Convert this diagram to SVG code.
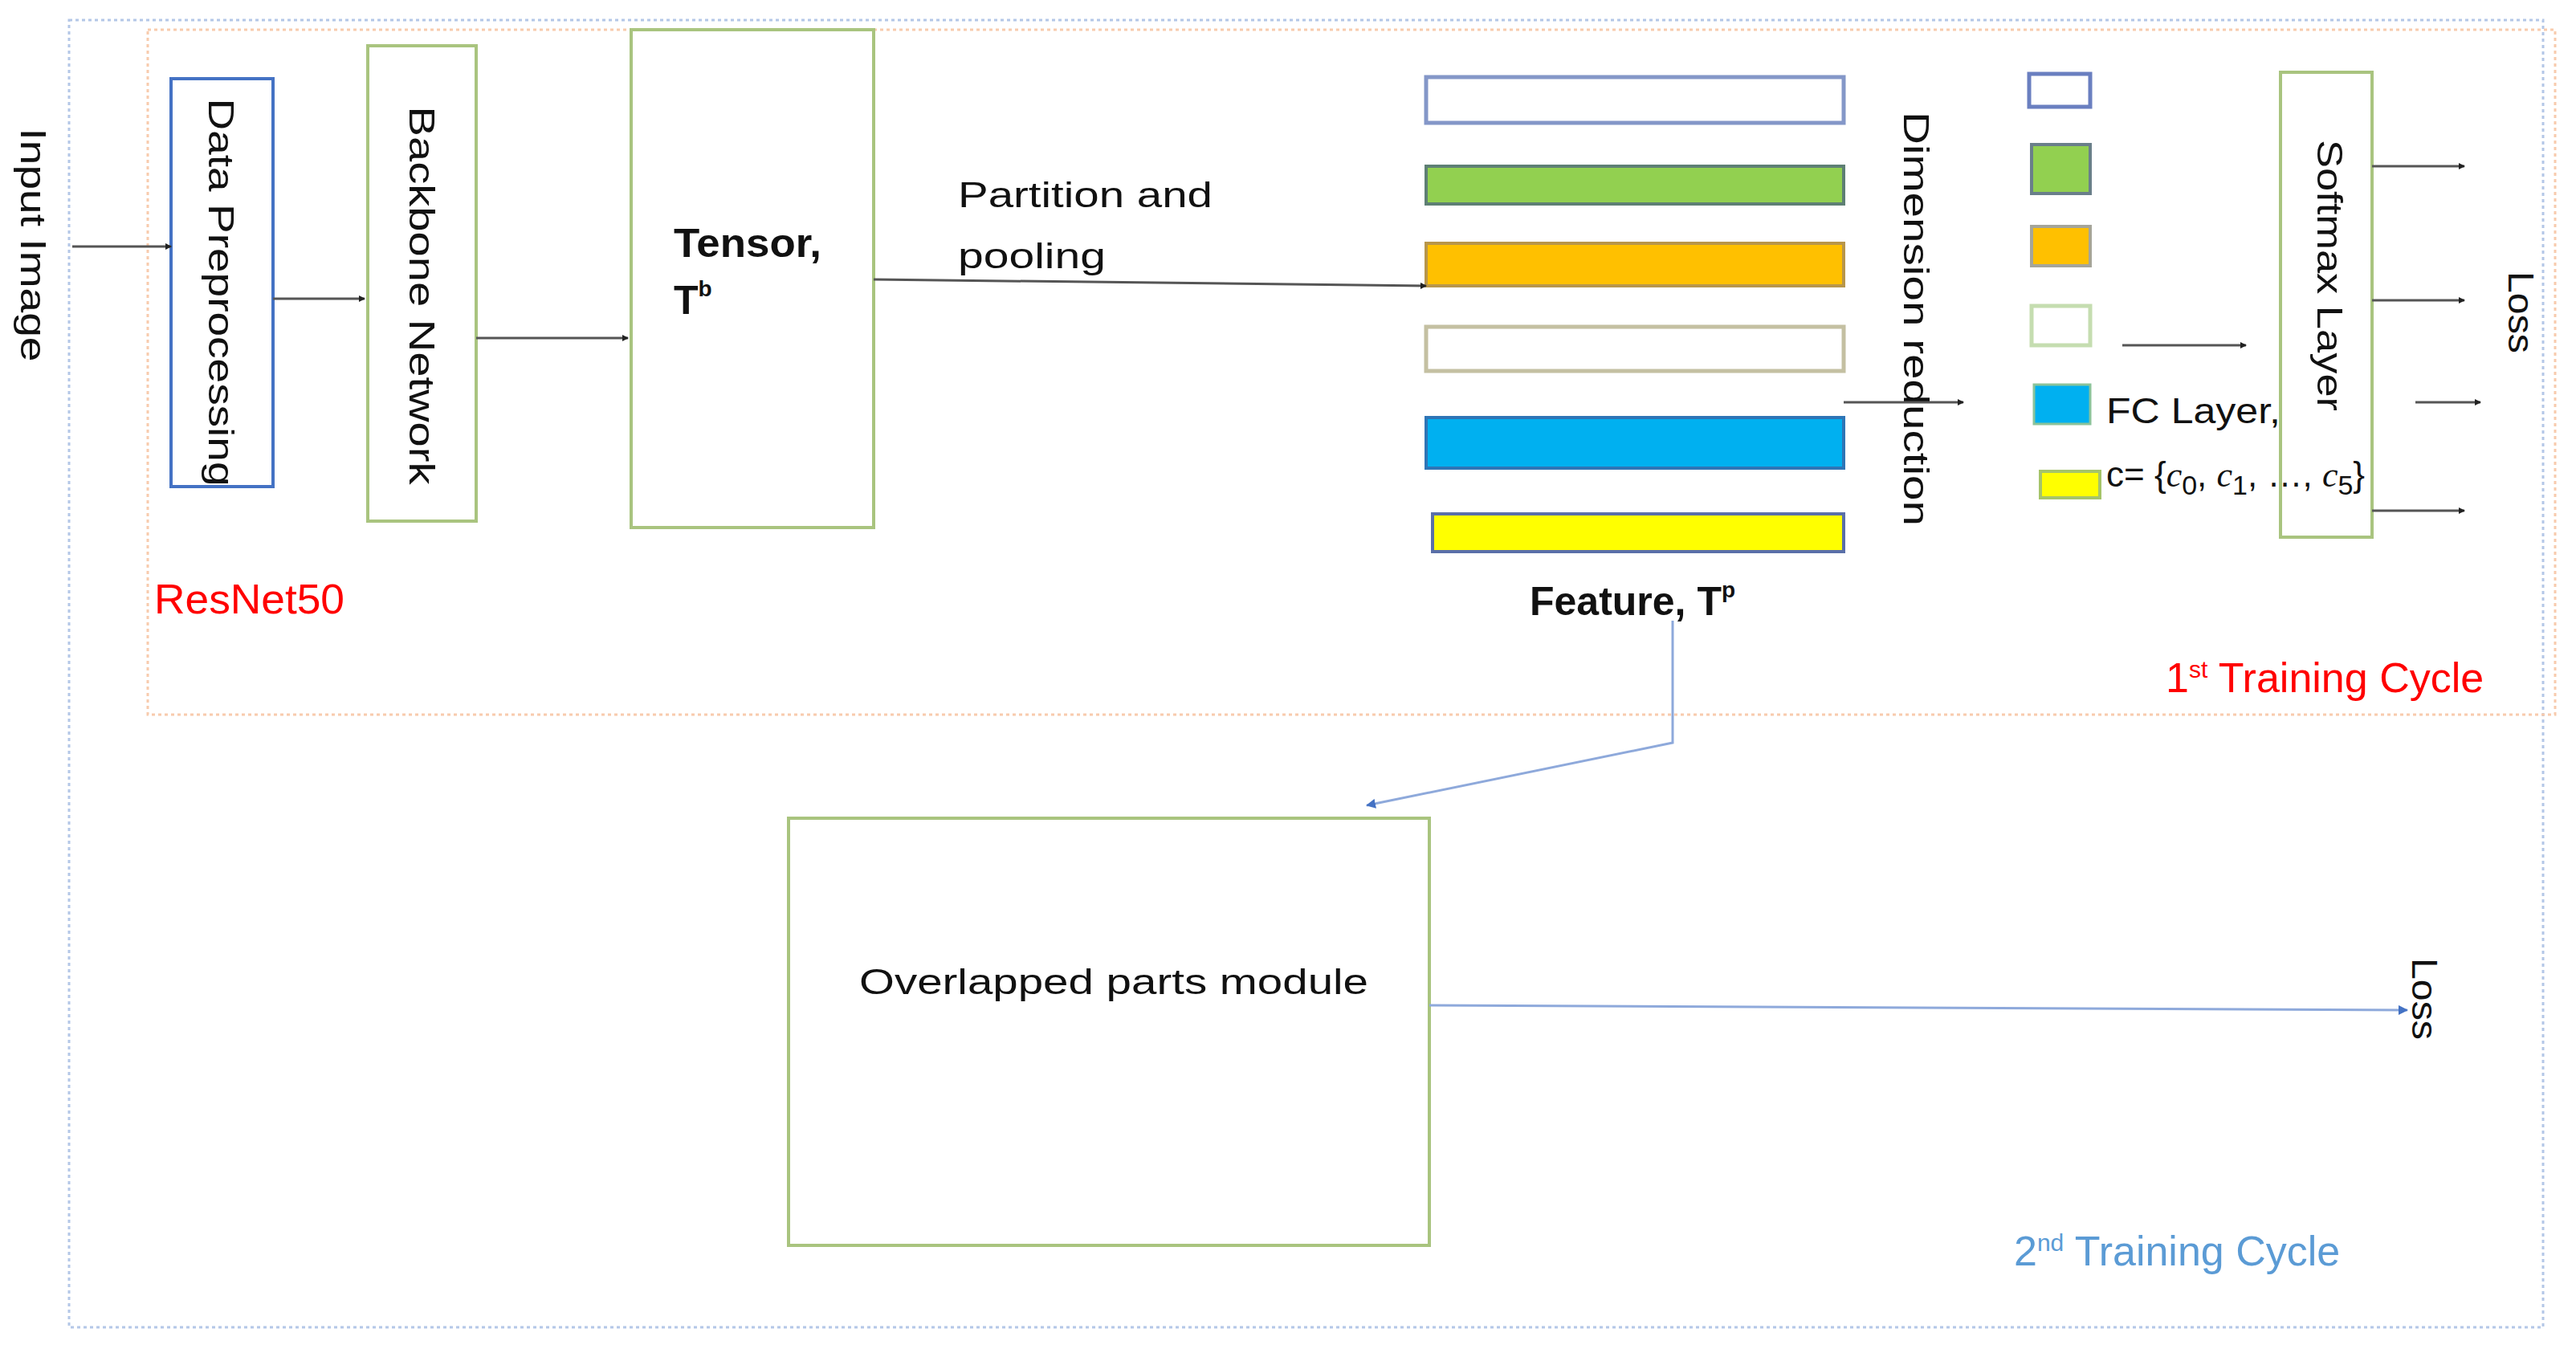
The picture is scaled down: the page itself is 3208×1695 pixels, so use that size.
<svg xmlns="http://www.w3.org/2000/svg" width="3208" height="1695" viewBox="0 0 3208 1695">
<defs>
<marker id="ah" markerWidth="8" markerHeight="8" refX="7" refY="4" orient="auto" markerUnits="userSpaceOnUse"><path d="M0,0 L8,4 L0,8 z" fill="#222"/></marker>
<marker id="ab" markerWidth="12" markerHeight="12" refX="11" refY="6" orient="auto" markerUnits="userSpaceOnUse"><path d="M0,0 L12,6 L0,12 z" fill="#4472C4"/></marker>
<style>
text{font-family:"Liberation Sans",Arial,sans-serif;fill:#111}
.t{font-size:44px}
.b{font-size:50px;font-weight:bold}
.red{fill:#FF0000;font-size:52px}
.blue{fill:#5B9BD5;font-size:52px}
.c{stroke:#555;stroke-width:3;fill:none;marker-end:url(#ah)}
.cb{stroke:#8EA9DB;stroke-width:3;fill:none;marker-end:url(#ab)}
.g{fill:#fff;stroke:#A9C47F;stroke-width:4}
</style>
</defs>
<rect width="3208" height="1695" fill="#fff"/>
<rect x="86" y="25" width="3081" height="1628" fill="none" stroke="#B4C7E7" stroke-width="3" stroke-dasharray="4,4"/>
<rect x="184" y="37" width="2998" height="853" fill="none" stroke="#F8CBAD" stroke-width="3" stroke-dasharray="4,4"/>
<text class="red" x="192" y="764" textLength="237" lengthAdjust="spacingAndGlyphs">ResNet50</text>
<text class="red" x="2697" y="862">1<tspan font-size="30" dy="-18">st</tspan><tspan dy="18"> Training Cycle</tspan></text>
<text class="blue" x="2508" y="1576">2<tspan font-size="30" dy="-18">nd</tspan><tspan dy="18"> Training Cycle</tspan></text>
<text class="t" transform="translate(26,305) rotate(90)" text-anchor="middle" textLength="291" lengthAdjust="spacingAndGlyphs">Input Image</text>
<g id="preproc"><rect x="213" y="98" width="127" height="508" fill="#fff" stroke="#4472C4" stroke-width="4"/><text class="t" transform="translate(260,364) rotate(90)" text-anchor="middle" textLength="483" lengthAdjust="spacingAndGlyphs">Data Preprocessing</text></g>
<g id="backbone"><rect class="g" x="458" y="57" width="135" height="592"/><text class="t" transform="translate(510,368) rotate(90)" text-anchor="middle" textLength="471" lengthAdjust="spacingAndGlyphs">Backbone Network</text></g>
<g id="tensor"><rect class="g" x="786" y="37" width="302" height="620"/><text class="b" x="839" y="320" textLength="184" lengthAdjust="spacingAndGlyphs">Tensor,</text><text class="b" x="839" y="391">T<tspan font-size="28" dy="-22">b</tspan></text></g>
<text class="t" font-size="48" x="1193" y="258" textLength="317" lengthAdjust="spacingAndGlyphs">Partition and</text>
<text class="t" font-size="48" x="1193" y="334" textLength="184" lengthAdjust="spacingAndGlyphs">pooling</text>
<g id="features">
<rect x="1776" y="96" width="520" height="57" fill="#fff" stroke="#8497C8" stroke-width="5"/>
<rect x="1776" y="207" width="520" height="47" fill="#92D050" stroke="#5E7F74" stroke-width="4"/>
<rect x="1776" y="303" width="520" height="53" fill="#FFC000" stroke="#B8964A" stroke-width="4"/>
<rect x="1776" y="407" width="520" height="55" fill="#fff" stroke="#C4C0A2" stroke-width="5"/>
<rect x="1776" y="520" width="520" height="63" fill="#00B0F0" stroke="#2E75B6" stroke-width="4"/>
<rect x="1784" y="640" width="512" height="47" fill="#FFFF00" stroke="#5A6FA8" stroke-width="4"/>
<text class="b" x="1905" y="766">Feature, T<tspan font-size="28" dy="-22">p</tspan></text>
</g>
<text class="t" transform="translate(2371,397) rotate(90)" text-anchor="middle" textLength="516" lengthAdjust="spacingAndGlyphs">Dimension reduction</text>
<g id="softmax"><rect class="g" x="2840" y="90" width="114" height="579"/><text class="t" transform="translate(2886,343) rotate(90)" text-anchor="middle" textLength="338" lengthAdjust="spacingAndGlyphs">Softmax Layer</text></g>
<g id="fc">
<rect x="2527" y="92" width="76" height="41" fill="#fff" stroke="#6A7FC0" stroke-width="5"/>
<rect x="2530" y="180" width="73" height="61" fill="#92D050" stroke="#6A7F8A" stroke-width="4"/>
<rect x="2530" y="282" width="73" height="49" fill="#FFC000" stroke="#A5A59A" stroke-width="4"/>
<rect x="2530" y="381" width="73" height="49" fill="#fff" stroke="#C5DDB0" stroke-width="5"/>
<rect x="2533" y="479" width="70" height="49" fill="#00B0F0" stroke="#8BC39A" stroke-width="3"/>
<rect x="2541" y="587" width="74" height="33" fill="#FFFF00" stroke="#A5C46A" stroke-width="4"/>
<text class="t" font-size="48" x="2623" y="527" textLength="217" lengthAdjust="spacingAndGlyphs">FC Layer,</text>
<text class="t" font-size="54" x="2623" y="606">c= {<tspan font-family="Liberation Serif" font-style="italic">c</tspan><tspan font-size="34" dy="10">0</tspan><tspan dy="-10">, </tspan><tspan font-family="Liberation Serif" font-style="italic">c</tspan><tspan font-size="34" dy="10">1</tspan><tspan dy="-10">, …, </tspan><tspan font-family="Liberation Serif" font-style="italic">c</tspan><tspan font-size="34" dy="10">5</tspan><tspan dy="-10">}</tspan></text>
</g>
<text class="t" font-size="48" transform="translate(3124,389) rotate(90)" text-anchor="middle" textLength="102" lengthAdjust="spacingAndGlyphs">Loss</text>
<g id="overlap"><rect class="g" x="982" y="1019" width="798" height="532"/><text class="t" font-size="50" x="1387" y="1238" text-anchor="middle" textLength="634" lengthAdjust="spacingAndGlyphs">Overlapped parts module</text></g>
<text class="t" font-size="48" transform="translate(3004,1244) rotate(90)" text-anchor="middle" textLength="102" lengthAdjust="spacingAndGlyphs">Loss</text>
<g id="connectors">
<path class="c" d="M90,307 H213"/>
<path class="c" d="M340,372 H454"/>
<path class="c" d="M593,421 H782"/>
<path class="c" d="M1088,348 L1776,356"/>
<path class="c" d="M2296,501 H2445"/>
<path class="c" d="M2643,430 H2797"/>
<path class="c" d="M2954,207 H3069"/>
<path class="c" d="M2954,374 H3069"/>
<path class="c" d="M3008,501 H3089"/>
<path class="c" d="M2954,636 H3069"/>
<path class="cb" d="M2083,773 V925 L1702,1003"/>
<path class="cb" d="M1780,1252 L2998,1258"/>
</g>
</svg>
